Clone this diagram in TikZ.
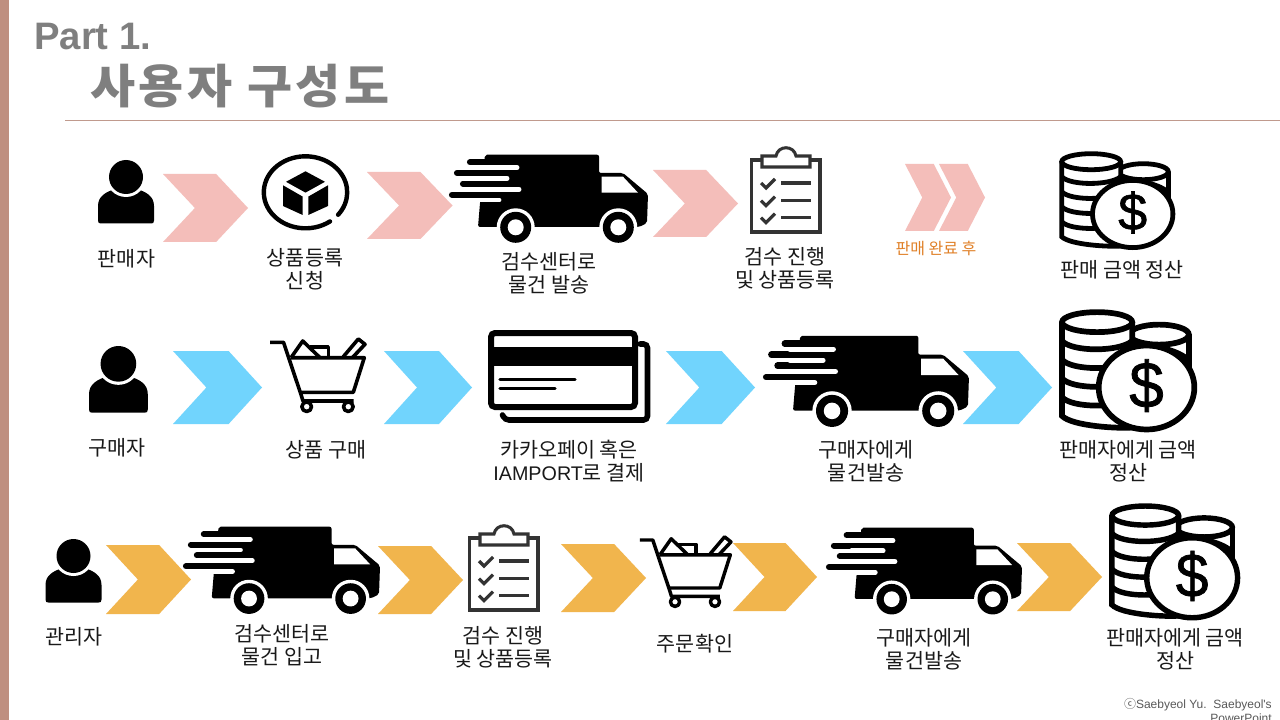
\documentclass[tikz,border=0pt]{standalone}
\usepackage{fontspec}
\setmainfont{Noto Sans CJK KR}
\newfontfamily\lat{Liberation Sans}
\newfontfamily\latfb[FakeBold=1.2]{Liberation Sans}
\definecolor{pinkc}{HTML}{F4BEBA}
\definecolor{bluec}{HTML}{71D4FD}
\definecolor{orangec}{HTML}{F1B54D}
\definecolor{bandc}{HTML}{BF8F80}
\definecolor{ruleC}{HTML}{C09A8D}
\definecolor{titlec}{HTML}{7F7F7F}
\definecolor{notec}{HTML}{E07F26}
\definecolor{clipc}{HTML}{333333}
\tikzset{
  lab/.style={align=center,inner sep=0pt,font=\fontsize{15.5}{17.25}\selectfont,text=black!90},
  dollar/.style={inner sep=0pt,transform shape,font=\fontsize{39}{39}\selectfont\latfb},
}
\newcommand\chev[5]{\fill[#5] (#1,#2) -- ({#1+#3*0.625},#2) -- ({#1+#3},{#2+#4/2}) -- ({#1+#3*0.625},{#2+#4}) -- (#1,{#2+#4}) -- ({#1+#3*0.375},{#2+#4/2}) -- cycle;}
\newcommand\personicon[3]{\begin{scope}[shift={(#1,#2)},scale=#3]
  \fill (0,60.5) -- (0,46) .. controls (0,36) and (8,32) .. (17,29) -- (39,29) .. controls (48,32) and (56,36) .. (56,46) -- (56,60.5) .. controls (56,63) and (55,63.5) .. (53,63.5) -- (3,63.5) .. controls (1,63.5) and (0,63) .. (0,60.5) -- cycle;
  \fill[white] (28,17) circle (20);
  \fill (28,17) circle (17);
\end{scope}}
\newcommand\truckicon[3]{\begin{scope}[shift={(#1,#2)},scale=#3]
  \fill[rounded corners=1.5pt] (36,1.7) -- (150,1.7) -- (150,20) -- (174,20) -- (199,41) -- (198,70) -- (190,74) -- (29,74) -- (31,50) -- cycle;
  \draw[line width=#3*4.6pt,line cap=round] (21,9.3) -- (40,9.3) (8,19.9) -- (40,19.9) (14,30.6) -- (40,30.6) (3,41.7) -- (40,41.7);
  \draw[white,line width=#3*3.7pt,line cap=round] (26,14.6) -- (68,14.6) (26,25.3) -- (58,25.3) (26,36.2) -- (70,36.2) (26,47) -- (50,47);
  \fill[white] (152.7,23.7) -- (174,23.7) -- (189,39.7) -- (152.7,39.7) -- cycle;
  \foreach \wx in {66.7,169.3}{
    \fill[white] (\wx,74.3) circle (19);
    \fill (\wx,74.3) circle (15.5);
    \fill[white] (\wx,74.3) circle (8);
  }
\end{scope}}
\newcommand\clipicon[3]{\begin{scope}[shift={(#1,#2)},scale=#3,draw=clipc,line width=#3*2.3pt]
  \draw (11,13) -- (0.5,13) -- (0.5,85) -- (69,85) -- (69,13) -- (59,13);
  \draw[fill=white] (11,20) -- (11,9) -- (25,9) .. controls (27,-2) and (43,-2) .. (45,9) -- (59,9) -- (59,20) -- cycle;
  \begin{scope}[line width=#3*2.4pt]
  \foreach \cy in {36,53.7,70.7}{
    \draw (10,\cy) -- (15,{\cy+5}) -- (24,{\cy-4});
    \draw (30,\cy) -- (60,\cy);
  }
  \end{scope}
\end{scope}}
\newcommand\carticon[3]{\begin{scope}[shift={(#1,#2)},scale=#3,line width=#3*2.7pt,line join=round]
  \draw (5,7.3) -- (18.5,7.3) -- (36,59.5) -- (38,66) -- (88.5,66);
  \draw (26,22.7) -- (99.3,22.7) -- (88.3,57.3) -- (35,57.3);
  \draw (26,22.7) -- (37.7,6) -- (55,22.7);
  \draw (45,11.7) -- (63.3,11.7) -- (63.3,22.7);
  \draw (78.3,21.7) -- (93.3,4) -- (100,9.3) -- (87.3,22.7);
  \draw[fill=white] (41.7,71.7) circle (4.8);
  \draw[fill=white] (83.3,71.7) circle (4.8);
\end{scope}}
\newcommand\coinsicon[5]{\begin{scope}[shift={(#1,#2)},xscale=#3,yscale=#4,line width=#3*3.6pt]
  \draw[fill=white] (83.3,19.7) ellipse (25 and 8);
  \draw (108.3,19.7) -- (108.3,46);
  \draw (60,26) .. controls (75,29) and (96,30) .. (108,40);
  \draw[fill=white] (1.7,9.7) -- (1.7,84.7) .. controls (10,93) and (50,95) .. (60.7,94) -- (60.7,9.7);
  \foreach \by in {24.7,39.7,54.7,69.7}{
    \draw (1.7,\by) .. controls (10,{\by+9}) and (50,{\by+9}) .. (60.7,\by);
  }
  \draw[fill=white] (31.2,9.7) ellipse (29.5 and 8);
  \draw[fill=white] (72.7,62) ellipse (40.2 and 33.6);
  \node[dollar] (#5) at (72.7,60.5) {\$};
\end{scope}}
\newcommand\cardicon[3]{\begin{scope}[shift={(#1,#2)},scale=#3]
  \draw[line width=#3*4.2pt,line cap=round,rounded corners=3pt] (152,14) -- (159.5,14) -- (159.5,90) -- (17,90) -- (14.5,85);
  \draw[line width=#3*4.5pt,rounded corners=3pt,fill=white] (3,3) rectangle (147,77);
  \fill (3,17) rectangle (147,36);
  \draw[line width=#3*2.4pt,line cap=round] (12,49.5) -- (87,49.5) (12,58.5) -- (67,58.5);
\end{scope}}
\begin{document}
\begin{tikzpicture}[x=0.75pt,y=-0.75pt]
\useasboundingbox (0,0) rectangle (1280,720);
\clip (0,0) rectangle (1280,720);
\fill[white] (0,0) rectangle (1280,720);
\fill[bandc] (0,0) rectangle (9,720);
\draw[ruleC,line width=0.75pt] (65,120.5) -- (1280,120.5);
\node[anchor=west,inner sep=0pt,text=titlec,font=\fontsize{28.7}{30}\selectfont\lat\bfseries] (part) at (34,37) {Part 1.};
\node[anchor=west,inner sep=0pt,text=titlec,font=\fontsize{35}{40}\selectfont\bfseries,xscale=1.05] (title) at (90,86) {사\hspace{2.5pt}용\hspace{2.5pt}자 \hspace{2.5pt}구\hspace{2.5pt}성\hspace{2.5pt}도};
% chevrons
\chev{163}{174}{85}{68}{pinkc}
\chev{367}{172}{85.5}{67}{pinkc}
\chev{653}{170}{85}{67}{pinkc}
\chev{905}{164}{46}{67}{pinkc}
\chev{939}{164}{46}{67}{pinkc}
\chev{173}{351}{89}{73}{bluec}
\chev{384}{351}{88}{73}{bluec}
\chev{666}{351}{89}{73}{bluec}
\chev{963}{351}{89}{73}{bluec}
\chev{106}{545}{85}{69}{orangec}
\chev{378}{546}{85}{68}{orangec}
\chev{561}{544}{85}{68}{orangec}
\chev{733}{543}{84}{68}{orangec}
\chev{1017}{543}{85}{68}{orangec}
% row 1
\personicon{98}{160}{1}
\draw[line width=3.3pt,line cap=round] (305.5,192.3)+(54:41.7 and 36) arc[start angle=54,end angle=398.6,x radius=41.7,y radius=36];
\fill (305.5,171.3) -- (325,181.8) -- (305.5,192.6) -- (286,181.8) -- cycle;
\fill (283,185.3) -- (302.7,196.6) -- (302.7,215) -- (283,206) -- cycle;
\fill (328,185.3) -- (308.3,196.6) -- (308.3,215) -- (328,206) -- cycle;
\truckicon{449}{153}{1}
\clipicon{751}{147}{1}
\coinsicon{1060}{152}{1}{1}{d1}
% row 2
\personicon{89}{346}{1.05}
\carticon{265}{335}{1}
\cardicon{488}{330}{1}
\truckicon{763}{334}{1.035}
\coinsicon{1060}{310}{1.19}{1.25}{d2}
% row 3
\personicon{45.5}{539}{1}
\truckicon{183}{525}{0.99}
\clipicon{469}{525}{1}
\carticon{635}{533}{0.96}
\truckicon{826}{526}{0.985}
\coinsicon{1110}{504}{1.13}{1.19}{d3}
% labels
\node[lab] (a1) at (126.5,259) {판매자};
\node[lab] (a2) at (305,269.5) {상품등록\\신청};
\node[lab] (a3) at (549,273) {검수센터로\\물건 발송};
\node[lab] (a4) at (785,268.5) {검수 진행\\및 상품등록};
\node[inner sep=0pt,text=notec,font=\fontsize{12}{14}\selectfont] (a5) at (936,248.5) {판매 완료 후};
\node[lab] (a6) at (1122,270) {판매 금액 정산};
\node[lab] (b1) at (117,448) {구매자};
\node[lab] (b2) at (326,450) {상품 구매};
\node[lab] (b3) at (569,461.5) {카카오페이 혹은\\{\lat\fontsize{14.8}{17.25}\selectfont IAMPORT}로 결제};
\node[lab] (b4) at (866,461.5) {구매자에게\\물건발송};
\node[lab] (b5) at (1128,461.5) {판매자에게 금액\\정산};
\node[lab] (c1) at (74,637) {관리자};
\node[lab] (c2) at (282,645.5) {검수센터로\\물건 입고};
\node[lab] (c3) at (503,647.5) {검수 진행\\및 상품등록};
\node[lab] (c4) at (695,644) {주문확인};
\node[lab] (c5) at (924,649.5) {구매자에게\\물건발송};
\node[lab] (c6) at (1175,649.5) {판매자에게 금액\\정산};
\node[anchor=north east,align=right,inner sep=0pt,text=black!65,font=\fontsize{9}{9.9}\selectfont\lat] (copy) at (1272,698.5) {{\fontspec{Noto Sans CJK KR}ⓒ}Saebyeol Yu.\ \ Saebyeol's\\PowerPoint};
\end{tikzpicture}
\end{document}
